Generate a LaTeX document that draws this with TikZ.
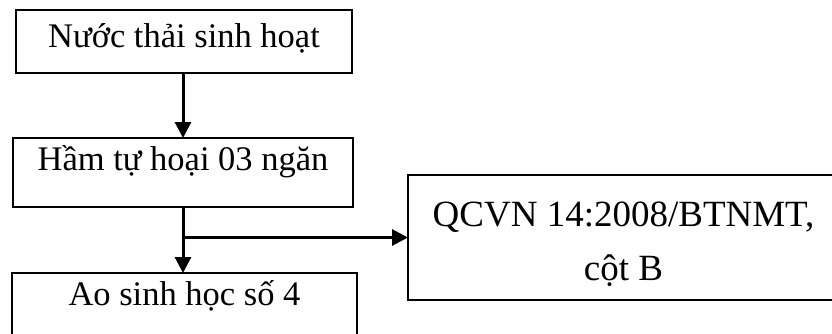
\documentclass[tikz,border=0pt]{standalone}
\usepackage{fontspec}
\setmainfont{Liberation Serif}
\usetikzlibrary{arrows.meta}
\begin{document}
\begin{tikzpicture}[x=1pt,y=-1pt,
  box/.style={draw,line width=2pt,inner sep=0pt,outer sep=0pt,anchor=north west,
    font=\fontsize{34.5}{40}\selectfont},
  arr/.style={line width=3pt,-{Triangle[length=16pt,width=16pt]}}]
\useasboundingbox (0,0) rectangle (832,333);
\clip (0,0) rectangle (832,333);
\node[box,minimum width=336pt,minimum height=63pt,text height=37pt,text depth=26pt] (b1) at (16,10) {Nước thải sinh hoạt};
\node[box,minimum width=340pt,minimum height=69pt,text height=32pt,text depth=37pt] (b2) at (13,138) {Hầm tự hoại 03 ngăn};
\node[box,minimum width=345pt,minimum height=69pt,text height=32pt,text depth=37pt] (b3) at (12,273) {Ao sinh học số 4};
\node[box,minimum width=431pt,minimum height=125pt,text height=105pt,text depth=20pt,align=center,
  font=\fontsize{37}{54}\selectfont] (b4) at (408,175) {QCVN 14:2008/BTNMT,\\cột B};
\draw[arr] (b2.north |- b1.south) -- (b2.north);
\coordinate (j) at (b2.south |- b4.west);
\draw[arr] (b2.south) -- (b2.south |- b3.north);
\draw[arr] (j) -- (b4.west);
\end{tikzpicture}
\end{document}
